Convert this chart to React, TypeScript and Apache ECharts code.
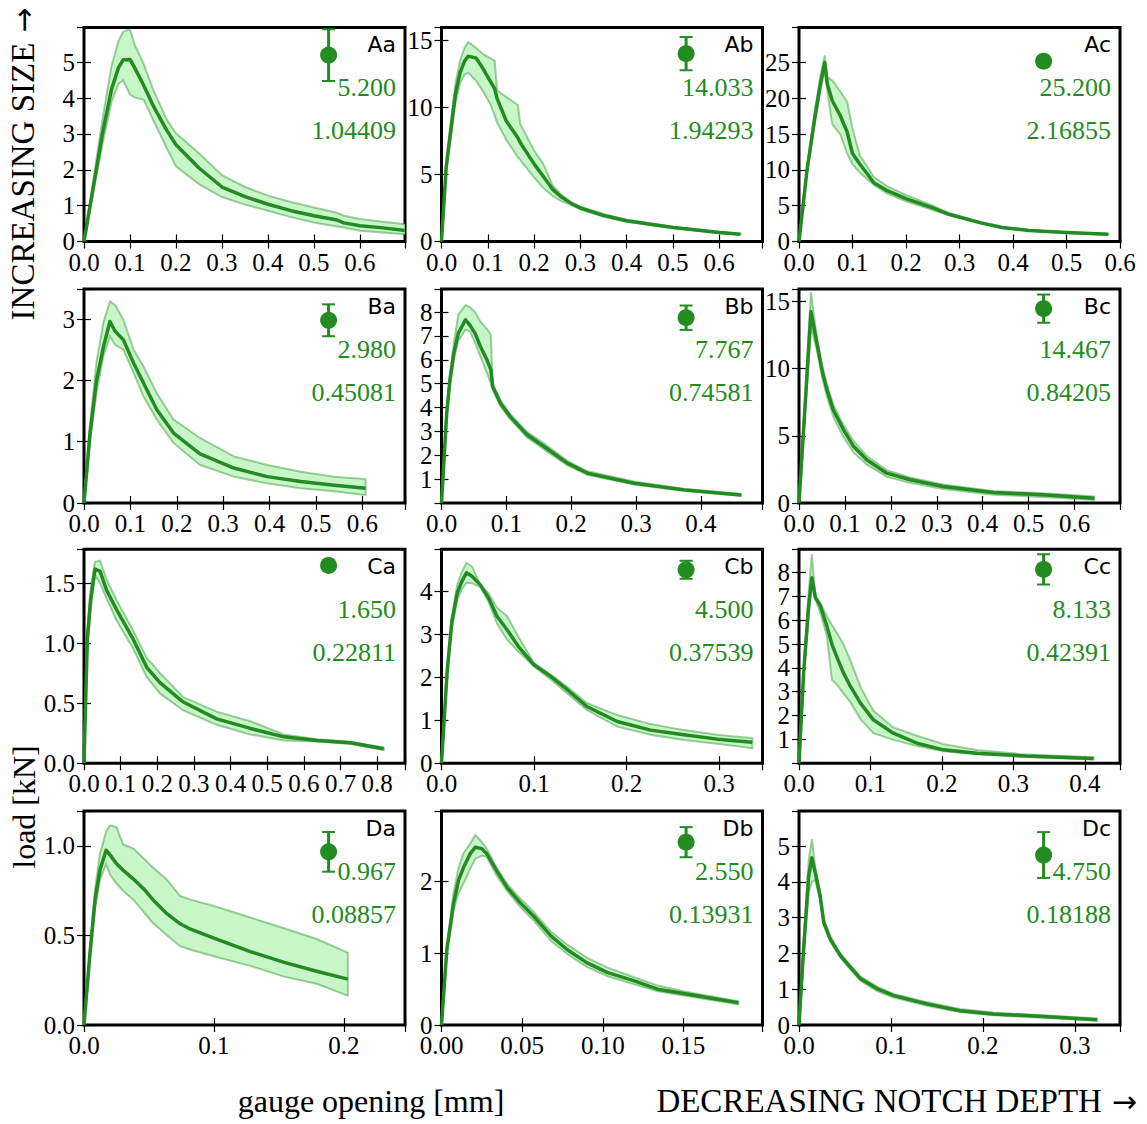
import React, { useEffect, useRef } from 'react';
import * as echarts from 'echarts';

// ---------------- data ----------------
const PANEL_NAMES = ['Aa', 'Ab', 'Ac', 'Ba', 'Bb', 'Bc', 'Ca', 'Cb', 'Cc', 'Da', 'Db', 'Dc'];
const PEAK_MEAN = [5.2, 14.033, 25.2, 2.98, 7.767, 14.467, 1.65, 4.5, 8.133, 0.967, 2.55, 4.75];
const PEAK_STD = [1.04409, 1.94293, 2.16855, 0.45081, 0.74581, 0.84205, 0.22811, 0.37539, 0.42391, 0.08857, 0.13931, 0.18188];
const ERR_HALF = [0.72, 1.24, 0.5, 0.26, 0.51, 1.05, 0.035, 0.21, 0.63, 0.111, 0.21, 0.64];

const AA_X = [0, 0.02, 0.04, 0.06, 0.075, 0.085, 0.1, 0.11, 0.13, 0.15, 0.18, 0.2, 0.25, 0.3, 0.35, 0.4, 0.45, 0.5, 0.55, 0.565, 0.6, 0.65, 0.698];
const AA_MEAN = [0, 1.5, 3.0, 4.25, 4.85, 5.07, 5.08, 4.85, 4.35, 3.8, 3.1, 2.7, 2.05, 1.52, 1.25, 1.04, 0.86, 0.72, 0.6, 0.52, 0.44, 0.38, 0.31];
const AA_HI = [0, 1.7, 3.4, 4.9, 5.6, 5.85, 5.92, 5.5, 4.95, 4.25, 3.4, 3.02, 2.46, 1.85, 1.52, 1.28, 1.1, 0.95, 0.8, 0.72, 0.63, 0.55, 0.48];
const AA_LO = [0, 1.35, 2.7, 3.9, 4.4, 4.5, 4.1, 4.02, 3.95, 3.4, 2.6, 2.1, 1.6, 1.24, 1.03, 0.86, 0.68, 0.53, 0.42, 0.39, 0.3, 0.25, 0.2];

const AB_X = [0, 0.01, 0.02, 0.03, 0.04, 0.05, 0.058, 0.075, 0.09, 0.105, 0.115, 0.12, 0.14, 0.165, 0.17, 0.2, 0.22, 0.24, 0.26, 0.28, 0.3, 0.35, 0.4, 0.5, 0.6, 0.646];
const AB_MEAN = [0, 5.5, 8.3, 11.0, 12.6, 13.5, 13.85, 13.7, 12.9, 12.0, 11.4, 10.7, 9.0, 7.75, 7.4, 5.8, 4.85, 3.9, 3.3, 2.85, 2.5, 1.95, 1.55, 1.05, 0.68, 0.55];
const AB_HI = [0, 5.8, 8.9, 11.8, 13.5, 14.5, 14.9, 14.45, 14.0, 13.7, 13.5, 11.3, 10.8, 10.2, 8.8, 6.8, 5.8, 4.2, 3.45, 2.95, 2.6, 2.05, 1.62, 1.1, 0.72, 0.58];
const AB_LO = [0, 5.2, 7.8, 10.3, 11.8, 12.5, 12.6, 12.0, 11.2, 10.3, 9.4, 8.9, 7.6, 6.3, 6.1, 4.8, 4.0, 3.4, 3.0, 2.72, 2.4, 1.85, 1.48, 1.0, 0.64, 0.52];

const AC_X = [0, 0.015, 0.03, 0.04, 0.048, 0.053, 0.062, 0.077, 0.09, 0.1, 0.114, 0.14, 0.165, 0.2, 0.25, 0.28, 0.34, 0.38, 0.43, 0.5, 0.578];
const AC_MEAN = [0, 10.0, 17.5, 22.0, 25.0, 22.0, 19.7, 17.6, 15.3, 12.3, 10.8, 8.2, 7.1, 6.0, 4.7, 3.8, 2.6, 1.95, 1.55, 1.25, 1.0];
const AC_HI = [0, 10.5, 18.5, 23.2, 26.0, 23.0, 22.5, 21.0, 19.5, 15.8, 12.0, 9.0, 7.7, 6.5, 5.0, 4.0, 2.7, 2.0, 1.62, 1.3, 1.05];
const AC_LO = [0, 9.5, 16.8, 21.0, 24.0, 21.0, 16.4, 15.0, 12.3, 10.8, 9.6, 7.9, 6.7, 5.6, 4.4, 3.7, 2.5, 1.9, 1.5, 1.2, 0.95];

const BA_X = [0, 0.013, 0.027, 0.042, 0.056, 0.067, 0.085, 0.107, 0.128, 0.157, 0.193, 0.25, 0.323, 0.395, 0.467, 0.539, 0.607];
const BA_MEAN = [0, 1.14, 2.0, 2.55, 2.96, 2.8, 2.66, 2.28, 1.96, 1.52, 1.14, 0.8, 0.57, 0.43, 0.35, 0.29, 0.24];
const BA_HI = [0, 1.3, 2.3, 2.95, 3.29, 3.23, 2.99, 2.5, 2.23, 1.79, 1.36, 1.06, 0.76, 0.62, 0.51, 0.43, 0.39];
const BA_LO = [0, 1.0, 1.8, 2.4, 2.72, 2.58, 2.5, 2.12, 1.74, 1.36, 0.98, 0.62, 0.43, 0.32, 0.24, 0.19, 0.13];

const BB_X = [0, 0.008, 0.013, 0.019, 0.026, 0.037, 0.044, 0.052, 0.06, 0.07, 0.076, 0.079, 0.091, 0.106, 0.132, 0.158, 0.194, 0.225, 0.297, 0.374, 0.462];
const BB_MEAN = [0, 3.76, 5.16, 6.28, 7.12, 7.68, 7.45, 7.1, 6.56, 6.0, 5.6, 4.88, 4.18, 3.62, 2.86, 2.37, 1.67, 1.25, 0.83, 0.55, 0.34];
const BB_HI = [0, 3.9, 5.4, 6.7, 7.9, 8.3, 8.2, 8.0, 7.6, 7.3, 7.05, 5.0, 4.3, 3.72, 2.98, 2.5, 1.77, 1.33, 0.9, 0.6, 0.38];
const BB_LO = [0, 3.6, 4.9, 6.0, 6.8, 7.26, 7.2, 6.7, 6.14, 5.45, 5.0, 4.74, 4.05, 3.52, 2.75, 2.25, 1.58, 1.18, 0.77, 0.5, 0.3];

const BC_X = [0, 0.013, 0.026, 0.039, 0.05, 0.061, 0.075, 0.097, 0.119, 0.148, 0.191, 0.242, 0.314, 0.423, 0.531, 0.643];
const BC_MEAN = [0, 7.1, 14.25, 11.9, 9.9, 8.4, 6.9, 5.45, 4.2, 3.2, 2.22, 1.73, 1.23, 0.78, 0.61, 0.36];
const BC_HI = [0, 7.8, 15.7, 12.3, 10.3, 8.8, 7.3, 5.8, 4.6, 3.5, 2.45, 1.9, 1.38, 0.9, 0.72, 0.48];
const BC_LO = [0, 6.6, 13.1, 11.4, 9.4, 7.9, 6.4, 4.9, 3.75, 2.85, 1.95, 1.5, 1.05, 0.62, 0.45, 0.22];

const CA_X = [0, 0.009, 0.018, 0.03, 0.044, 0.062, 0.089, 0.135, 0.171, 0.208, 0.271, 0.362, 0.454, 0.545, 0.636, 0.727, 0.818];
const CA_MEAN = [0, 1.03, 1.36, 1.62, 1.6, 1.44, 1.28, 1.03, 0.8, 0.67, 0.51, 0.37, 0.29, 0.22, 0.19, 0.17, 0.12];
const CA_HI = [0, 1.1, 1.45, 1.68, 1.69, 1.53, 1.36, 1.1, 0.88, 0.75, 0.55, 0.43, 0.35, 0.24, 0.2, 0.18, 0.13];
const CA_LO = [0, 0.95, 1.28, 1.57, 1.5, 1.37, 1.19, 0.95, 0.72, 0.58, 0.44, 0.32, 0.24, 0.19, 0.18, 0.16, 0.11];

const CB_X = [0, 0.006, 0.011, 0.017, 0.022, 0.027, 0.033, 0.042, 0.051, 0.06, 0.071, 0.083, 0.1, 0.118, 0.136, 0.157, 0.19, 0.226, 0.262, 0.298, 0.336];
const CB_MEAN = [0, 2.1, 3.26, 3.96, 4.23, 4.43, 4.35, 4.15, 3.84, 3.42, 3.1, 2.72, 2.29, 2.02, 1.71, 1.32, 0.97, 0.77, 0.66, 0.56, 0.49];
const CB_HI = [0, 2.2, 3.4, 4.15, 4.45, 4.66, 4.58, 4.15, 3.95, 3.62, 3.42, 2.95, 2.33, 2.06, 1.78, 1.4, 1.12, 0.91, 0.77, 0.66, 0.58];
const CB_LO = [0, 2.0, 3.1, 3.8, 4.05, 4.2, 4.19, 4.1, 3.75, 3.25, 2.87, 2.6, 2.25, 1.95, 1.62, 1.24, 0.85, 0.66, 0.54, 0.45, 0.35];

const CC_X = [0, 0.0065, 0.0135, 0.018, 0.023, 0.03, 0.039, 0.046, 0.053, 0.062, 0.072, 0.086, 0.104, 0.132, 0.165, 0.202, 0.249, 0.318, 0.412];
const CC_MEAN = [0, 3.8, 6.6, 7.78, 6.95, 6.6, 5.75, 5.0, 4.45, 3.8, 3.22, 2.52, 1.82, 1.26, 0.84, 0.56, 0.42, 0.3, 0.2];
const CC_HI = [0, 4.0, 7.2, 8.77, 7.0, 6.7, 6.17, 5.8, 5.47, 5.0, 4.3, 3.2, 2.2, 1.5, 1.15, 0.8, 0.55, 0.36, 0.25];
const CC_LO = [0, 3.6, 6.2, 7.44, 6.88, 6.3, 5.33, 3.5, 3.3, 2.94, 2.55, 1.85, 1.26, 0.98, 0.72, 0.5, 0.38, 0.26, 0.16];

const DA_X = [0, 0.0046, 0.0085, 0.0123, 0.017, 0.02, 0.025, 0.03, 0.038, 0.046, 0.053, 0.064, 0.074, 0.082, 0.102, 0.128, 0.154, 0.179, 0.203];
const DA_MEAN = [0, 0.4, 0.7, 0.865, 0.976, 0.95, 0.9, 0.865, 0.815, 0.76, 0.7, 0.62, 0.565, 0.535, 0.48, 0.41, 0.35, 0.3, 0.256];
const DA_HI = [0, 0.43, 0.76, 0.957, 1.08, 1.115, 1.105, 1.01, 0.985, 0.93, 0.88, 0.81, 0.72, 0.7, 0.66, 0.6, 0.54, 0.48, 0.404];
const DA_LO = [0, 0.37, 0.65, 0.81, 0.9, 0.84, 0.79, 0.75, 0.7, 0.63, 0.57, 0.5, 0.44, 0.42, 0.38, 0.33, 0.27, 0.23, 0.164];

const DB_X = [0, 0.0033, 0.0075, 0.0106, 0.0137, 0.0178, 0.021, 0.025, 0.028, 0.034, 0.041, 0.049, 0.057, 0.068, 0.078, 0.09, 0.103, 0.119, 0.134, 0.15, 0.184];
const DB_MEAN = [0, 1.05, 1.7, 2.02, 2.2, 2.39, 2.48, 2.46, 2.39, 2.16, 1.91, 1.7, 1.52, 1.24, 1.05, 0.87, 0.73, 0.62, 0.5, 0.44, 0.31];
const DB_HI = [0, 1.1, 1.85, 2.2, 2.4, 2.53, 2.65, 2.55, 2.46, 2.2, 1.96, 1.76, 1.58, 1.3, 1.12, 0.94, 0.8, 0.67, 0.55, 0.47, 0.33];
const DB_LO = [0, 1.0, 1.6, 1.84, 1.98, 2.18, 2.32, 2.36, 2.35, 2.09, 1.86, 1.64, 1.46, 1.17, 0.99, 0.81, 0.68, 0.57, 0.47, 0.41, 0.29];

const DC_X = [0, 0.005, 0.0105, 0.014, 0.0177, 0.023, 0.027, 0.034, 0.045, 0.056, 0.067, 0.085, 0.103, 0.139, 0.175, 0.211, 0.266, 0.324];
const DC_MEAN = [0, 2.12, 4.16, 4.67, 4.25, 3.6, 2.86, 2.4, 1.94, 1.61, 1.29, 1.01, 0.82, 0.59, 0.4, 0.31, 0.24, 0.15];
const DC_HI = [0, 2.3, 4.6, 5.2, 4.4, 3.7, 2.95, 2.47, 2.0, 1.67, 1.35, 1.07, 0.87, 0.64, 0.45, 0.35, 0.27, 0.18];
const DC_LO = [0, 1.95, 3.7, 4.0, 4.05, 3.5, 2.78, 2.33, 1.88, 1.55, 1.23, 0.95, 0.77, 0.54, 0.36, 0.27, 0.2, 0.12];

// axis ranges / tick steps per panel
const X_MAX = [0.698, 0.6935, 0.6, 0.692, 0.495, 0.699, 0.876, 0.347, 0.449, 0.247, 0.199, 0.349];
const X_STEP = [0.1, 0.1, 0.1, 0.1, 0.1, 0.1, 0.1, 0.1, 0.1, 0.1, 0.05, 0.1];
const X_DEC = [1, 1, 1, 1, 1, 1, 1, 1, 1, 1, 2, 1];
const Y_MAX = [5.97, 15.99, 29.9, 3.49, 8.97, 15.93, 1.785, 4.98, 8.98, 1.195, 2.985, 5.98];
const Y_STEP = [1, 5, 5, 1, 1, 5, 0.5, 1, 1, 0.5, 1, 1];
const Y_DEC = [0, 0, 0, 0, 0, 0, 1, 0, 0, 1, 0, 0];

const CURVES = [
  { x: AA_X, mean: AA_MEAN, hi: AA_HI, lo: AA_LO },
  { x: AB_X, mean: AB_MEAN, hi: AB_HI, lo: AB_LO },
  { x: AC_X, mean: AC_MEAN, hi: AC_HI, lo: AC_LO },
  { x: BA_X, mean: BA_MEAN, hi: BA_HI, lo: BA_LO },
  { x: BB_X, mean: BB_MEAN, hi: BB_HI, lo: BB_LO },
  { x: BC_X, mean: BC_MEAN, hi: BC_HI, lo: BC_LO },
  { x: CA_X, mean: CA_MEAN, hi: CA_HI, lo: CA_LO },
  { x: CB_X, mean: CB_MEAN, hi: CB_HI, lo: CB_LO },
  { x: CC_X, mean: CC_MEAN, hi: CC_HI, lo: CC_LO },
  { x: DA_X, mean: DA_MEAN, hi: DA_HI, lo: DA_LO },
  { x: DB_X, mean: DB_MEAN, hi: DB_HI, lo: DB_LO },
  { x: DC_X, mean: DC_MEAN, hi: DC_HI, lo: DC_LO },
];

// ---------------- layout & style ----------------
const COL_LEFT = [84, 441.5, 799];
const ROW_TOP = [27.5, 289, 549.2, 811];
const GW = 321;
const GH = 214;
const MARK_FRAC = 0.762;

const GREEN = '#228B22';
const BAND_FILL = '#c9f6c9';
const BAND_EDGE = 'rgba(34,139,34,0.42)';
const SERIF = "'Liberation Serif', 'DejaVu Serif', serif";
const SANS = "'DejaVu Sans', 'Liberation Sans', sans-serif";
const ARROW_FONT = "'DejaVu Sans', sans-serif";

function tickFormatter(step: number, dec: number) {
  return (v: number) => {
    const r = v / step;
    return Math.abs(r - Math.round(r)) < 1e-6 ? v.toFixed(dec) : '';
  };
}

function titleText(x: number, y: number, text: string, arrow: boolean, align: string, size: number, rotation = 0) {
  return {
    type: 'text', x, y, rotation, silent: true,
    style: {
      text: arrow ? `{t|${text}}{s| }{a|→}` : `{t|${text}}`,
      align, verticalAlign: 'middle',
      rich: {
        t: { fontFamily: SERIF, fontSize: size, fill: '#000' },
        s: { fontFamily: SERIF, fontSize: size, fill: '#000', width: 10 },
        a: { fontFamily: ARROW_FONT, fontSize: 30, fill: '#000' },
      },
    },
  };
}

function buildOption() {
  const grid: any[] = [];
  const xAxis: any[] = [];
  const yAxis: any[] = [];
  const series: any[] = [];
  const graphic: any[] = [];

  const tick = { inside: true, length: 7, lineStyle: { color: '#000', width: 1.2 } };

  CURVES.forEach((c, i) => {
    const col = i % 3;
    const row = Math.floor(i / 3);
    const left = COL_LEFT[col];
    const top = ROW_TOP[row];
    grid.push({
      left, top, width: GW, height: GH,
      show: true, borderColor: '#000', borderWidth: 3, backgroundColor: 'transparent',
      containLabel: false, outerBoundsMode: 'none',
    });
    const xBase = { type: 'value', gridIndex: i, min: 0, max: X_MAX[i], interval: X_STEP[i], axisLine: { show: false }, splitLine: { show: false }, axisTick: tick };
    const yBase = { type: 'value', gridIndex: i, min: 0, max: Y_MAX[i], interval: Y_STEP[i], axisLine: { show: false }, splitLine: { show: false }, axisTick: tick };
    xAxis.push({
      ...xBase, position: 'bottom',
      axisLabel: { formatter: tickFormatter(X_STEP[i], X_DEC[i]), color: '#000', fontFamily: SERIF, fontSize: 25, margin: 8 },
    });
    xAxis.push({ ...xBase, position: 'top', axisLabel: { show: false } });
    yAxis.push({
      ...yBase, position: 'left',
      axisLabel: { formatter: tickFormatter(Y_STEP[i], Y_DEC[i]), color: '#000', fontFamily: SERIF, fontSize: 25, margin: 9 },
    });
    yAxis.push({ ...yBase, position: 'right', axisLabel: { show: false } });

    // band
    series.push({
      type: 'custom', xAxisIndex: 2 * i, yAxisIndex: 2 * i, clip: true, silent: true, z: 1,
      data: [[0, 0]],
      renderItem: (_p: any, api: any) => {
        const pts: number[][] = [];
        for (let k = 0; k < c.x.length; k++) pts.push(api.coord([c.x[k], c.hi[k]]));
        for (let k = c.x.length - 1; k >= 0; k--) pts.push(api.coord([c.x[k], c.lo[k]]));
        return { type: 'polygon', shape: { points: pts }, style: { fill: BAND_FILL, stroke: BAND_EDGE, lineWidth: 2 } };
      },
    });
    // mean curve
    series.push({
      type: 'line', xAxisIndex: 2 * i, yAxisIndex: 2 * i, silent: true, z: 3,
      data: c.x.map((x, k) => [x, c.mean[k]]),
      showSymbol: false, symbol: 'none',
      lineStyle: { color: GREEN, width: 3.5, join: 'round' },
    });
    // error bar marker
    series.push({
      type: 'custom', xAxisIndex: 2 * i, yAxisIndex: 2 * i, clip: true, silent: true, z: 4,
      data: [[0, PEAK_MEAN[i], ERR_HALF[i]]],
      encode: { x: 0, y: 1 },
      renderItem: (params: any, api: any) => {
        const cs = params.coordSys;
        const cx = cs.x + cs.width * MARK_FRAC;
        const m = api.value(1);
        const e = api.value(2);
        const cy = api.coord([0, m])[1];
        const yT = api.coord([0, m + e])[1];
        const yB = api.coord([0, m - e])[1];
        return {
          type: 'group',
          children: [
            { type: 'line', shape: { x1: cx, y1: yT, x2: cx, y2: yB }, style: { stroke: GREEN, lineWidth: 3 } },
            { type: 'line', shape: { x1: cx - 6.5, y1: yT, x2: cx + 6.5, y2: yT }, style: { stroke: GREEN, lineWidth: 2 } },
            { type: 'line', shape: { x1: cx - 6.5, y1: yB, x2: cx + 6.5, y2: yB }, style: { stroke: GREEN, lineWidth: 2 } },
            { type: 'circle', shape: { cx, cy, r: 8.5 }, style: { fill: GREEN } },
          ],
        };
      },
    });

    const rx = left + GW - 9;
    graphic.push({
      type: 'text', x: rx, y: top + 17, z: 10, silent: true,
      style: { text: PANEL_NAMES[i], fill: '#000', fontFamily: SANS, fontSize: 22, align: 'right', verticalAlign: 'middle' },
    });
    graphic.push({
      type: 'text', x: rx, y: top + 60, z: 10, silent: true,
      style: { text: PEAK_MEAN[i].toFixed(3), fill: GREEN, fontFamily: SERIF, fontSize: 26, align: 'right', verticalAlign: 'middle' },
    });
    graphic.push({
      type: 'text', x: rx, y: top + 103, z: 10, silent: true,
      style: { text: PEAK_STD[i].toFixed(5), fill: GREEN, fontFamily: SERIF, fontSize: 26, align: 'right', verticalAlign: 'middle' },
    });
  });

  graphic.push(titleText(23, 164, 'INCREASING SIZE', true, 'center', 33, Math.PI / 2));
  graphic.push(titleText(24, 807, 'load [kN]', false, 'center', 32, Math.PI / 2));
  graphic.push(titleText(371, 1101, 'gauge opening [mm]', false, 'center', 32));
  graphic.push(titleText(1137, 1101, 'DECREASING NOTCH DEPTH', true, 'right', 33));

  return {
    animation: false,
    backgroundColor: '#fff',
    grid, xAxis, yAxis, series, graphic,
  };
}

export default function App() {
  const ref = useRef<HTMLDivElement>(null);
  useEffect(() => {
    if (!ref.current) return;
    const chart = echarts.init(ref.current, undefined, { renderer: 'svg' });
    chart.setOption(buildOption() as any);
    return () => chart.dispose();
  }, []);
  return <div ref={ref} style={{ position: 'fixed', left: 0, top: 0, width: 1147, height: 1124 }} />;
}
